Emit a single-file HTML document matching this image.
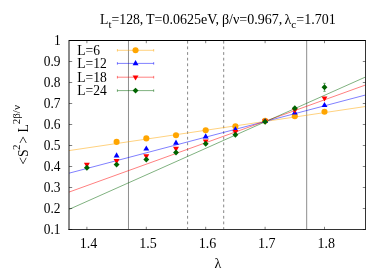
<!DOCTYPE html>
<html><head><meta charset="utf-8"><title>plot</title>
<style>
html,body{margin:0;padding:0;background:#fff;}
body{width:390px;height:273px;overflow:hidden;}
svg{display:block;will-change:transform;}
text{font-family:"Liberation Serif",serif;fill:#000;}
</style></head><body>
<svg width="390" height="273" viewBox="0 0 390 273">
<rect width="390" height="273" fill="#fff"/>

<text transform="translate(100.1,23.8) scale(0.98,1)" font-size="14">L<tspan font-size="11.200000000000001" dy="3.7">t</tspan><tspan dy="-3.7">=128,</tspan></text>
<text transform="translate(146.0,23.8) scale(1.0,1)" font-size="14">T=0.0625eV,</text>
<text transform="translate(221.95,23.8) scale(1.0,1)" font-size="14">β/ν=0.967,</text>
<text transform="translate(284.5,23.8) scale(1.0,1)" font-size="14">λ<tspan font-size="11.200000000000001" dy="3.7">c</tspan><tspan dy="-3.7">=1.701</tspan></text>
<line x1="128.48" y1="40.5" x2="128.48" y2="229.5" stroke="#000" stroke-width="0.45"/>
<line x1="306.68" y1="40.5" x2="306.68" y2="229.5" stroke="#000" stroke-width="0.45"/>
<line x1="187.6" y1="40.8" x2="187.6" y2="229.5" stroke="#000" stroke-width="0.48" stroke-dasharray="2.8,2.847"/>
<line x1="223.7" y1="40.8" x2="223.7" y2="229.5" stroke="#000" stroke-width="0.48" stroke-dasharray="2.8,2.847"/>
<line x1="69.0" y1="150.6" x2="365.5" y2="106.5" stroke="#ffa500" stroke-width="0.5"/>
<line x1="69.0" y1="173.2" x2="365.5" y2="95.0" stroke="#0000ff" stroke-width="0.5"/>
<line x1="69.0" y1="192.1" x2="365.5" y2="85.0" stroke="#ff0000" stroke-width="0.5"/>
<line x1="69.0" y1="209.4" x2="365.5" y2="77.0" stroke="#006400" stroke-width="0.5"/>
<path d="M69.0 40.5 H366.0" stroke="#000" stroke-width="1" fill="none"/>
<path d="M68.4 229.5 H366.0" stroke="#333" stroke-width="1" fill="none"/>
<path d="M365.5 40.5 V230.0" stroke="#333" stroke-width="1" fill="none"/>
<path d="M69.0 40.0 V230.0" stroke="#161616" stroke-width="1" fill="none"/>
<line x1="69.0" y1="229.50" x2="72.2" y2="229.50" stroke="#000" stroke-width="0.5"/>
<line x1="365.5" y1="229.50" x2="362.8" y2="229.50" stroke="#000" stroke-width="0.5"/>
<text transform="translate(60.6,234.25) scale(0.96,1)" font-size="14" text-anchor="end">0.1</text>
<line x1="69.0" y1="208.50" x2="72.2" y2="208.50" stroke="#000" stroke-width="0.5"/>
<line x1="365.5" y1="208.50" x2="362.8" y2="208.50" stroke="#000" stroke-width="0.5"/>
<text transform="translate(60.6,213.25) scale(0.96,1)" font-size="14" text-anchor="end">0.2</text>
<line x1="69.0" y1="187.50" x2="72.2" y2="187.50" stroke="#000" stroke-width="0.5"/>
<line x1="365.5" y1="187.50" x2="362.8" y2="187.50" stroke="#000" stroke-width="0.5"/>
<text transform="translate(60.6,192.25) scale(0.96,1)" font-size="14" text-anchor="end">0.3</text>
<line x1="69.0" y1="166.50" x2="72.2" y2="166.50" stroke="#000" stroke-width="0.5"/>
<line x1="365.5" y1="166.50" x2="362.8" y2="166.50" stroke="#000" stroke-width="0.5"/>
<text transform="translate(60.6,171.25) scale(0.96,1)" font-size="14" text-anchor="end">0.4</text>
<line x1="69.0" y1="145.50" x2="72.2" y2="145.50" stroke="#000" stroke-width="0.5"/>
<line x1="365.5" y1="145.50" x2="362.8" y2="145.50" stroke="#000" stroke-width="0.5"/>
<text transform="translate(60.6,150.25) scale(0.96,1)" font-size="14" text-anchor="end">0.5</text>
<line x1="69.0" y1="124.50" x2="72.2" y2="124.50" stroke="#000" stroke-width="0.5"/>
<line x1="365.5" y1="124.50" x2="362.8" y2="124.50" stroke="#000" stroke-width="0.5"/>
<text transform="translate(60.6,129.25) scale(0.96,1)" font-size="14" text-anchor="end">0.6</text>
<line x1="69.0" y1="103.50" x2="72.2" y2="103.50" stroke="#000" stroke-width="0.5"/>
<line x1="365.5" y1="103.50" x2="362.8" y2="103.50" stroke="#000" stroke-width="0.5"/>
<text transform="translate(60.6,108.25) scale(0.96,1)" font-size="14" text-anchor="end">0.7</text>
<line x1="69.0" y1="82.50" x2="72.2" y2="82.50" stroke="#000" stroke-width="0.5"/>
<line x1="365.5" y1="82.50" x2="362.8" y2="82.50" stroke="#000" stroke-width="0.5"/>
<text transform="translate(60.6,87.25) scale(0.96,1)" font-size="14" text-anchor="end">0.8</text>
<line x1="69.0" y1="61.50" x2="72.2" y2="61.50" stroke="#000" stroke-width="0.5"/>
<line x1="365.5" y1="61.50" x2="362.8" y2="61.50" stroke="#000" stroke-width="0.5"/>
<text transform="translate(60.6,66.25) scale(0.96,1)" font-size="14" text-anchor="end">0.9</text>
<line x1="69.0" y1="40.50" x2="72.2" y2="40.50" stroke="#000" stroke-width="0.5"/>
<line x1="365.5" y1="40.50" x2="362.8" y2="40.50" stroke="#000" stroke-width="0.5"/>
<text transform="translate(60.6,45.25) scale(0.96,1)" font-size="14" text-anchor="end">1</text>
<line x1="86.90" y1="229.5" x2="86.90" y2="226.8" stroke="#000" stroke-width="0.5"/>
<line x1="86.90" y1="40.5" x2="86.90" y2="43.2" stroke="#000" stroke-width="0.5"/>
<text x="88.60" y="247.9" font-size="14" text-anchor="middle">1.4</text>
<line x1="146.30" y1="229.5" x2="146.30" y2="226.8" stroke="#000" stroke-width="0.5"/>
<line x1="146.30" y1="40.5" x2="146.30" y2="43.2" stroke="#000" stroke-width="0.5"/>
<text x="148.00" y="247.9" font-size="14" text-anchor="middle">1.5</text>
<line x1="205.70" y1="229.5" x2="205.70" y2="226.8" stroke="#000" stroke-width="0.5"/>
<line x1="205.70" y1="40.5" x2="205.70" y2="43.2" stroke="#000" stroke-width="0.5"/>
<text x="207.40" y="247.9" font-size="14" text-anchor="middle">1.6</text>
<line x1="265.10" y1="229.5" x2="265.10" y2="226.8" stroke="#000" stroke-width="0.5"/>
<line x1="265.10" y1="40.5" x2="265.10" y2="43.2" stroke="#000" stroke-width="0.5"/>
<text x="266.80" y="247.9" font-size="14" text-anchor="middle">1.7</text>
<line x1="324.50" y1="229.5" x2="324.50" y2="226.8" stroke="#000" stroke-width="0.5"/>
<line x1="324.50" y1="40.5" x2="324.50" y2="43.2" stroke="#000" stroke-width="0.5"/>
<text x="326.20" y="247.9" font-size="14" text-anchor="middle">1.8</text>
<text x="217.8" y="267.5" font-size="14" text-anchor="middle">λ</text>
<text transform="translate(27.8,134.9) rotate(-90) scale(0.98,1)" font-size="14" text-anchor="middle">&lt;S<tspan font-size="11.200000000000001" dy="-7.5" dx="-0.8">2</tspan><tspan dy="7.5" dx="0.8">&gt; L</tspan><tspan font-size="11.200000000000001" dy="-7.5">2β/ν</tspan></text>
<circle cx="116.60" cy="141.90" r="3.05" fill="#ffa500"/>
<circle cx="146.30" cy="138.40" r="3.05" fill="#ffa500"/>
<circle cx="176.00" cy="135.20" r="3.05" fill="#ffa500"/>
<circle cx="205.70" cy="130.30" r="3.05" fill="#ffa500"/>
<circle cx="235.40" cy="126.40" r="3.05" fill="#ffa500"/>
<circle cx="265.10" cy="120.80" r="3.05" fill="#ffa500"/>
<circle cx="294.80" cy="116.30" r="3.05" fill="#ffa500"/>
<circle cx="324.50" cy="111.80" r="3.05" fill="#ffa500"/>
<path d="M116.60 152.30 L119.55 157.40 L113.65 157.40Z" fill="#0000ff"/>
<path d="M146.30 145.40 L149.25 150.50 L143.35 150.50Z" fill="#0000ff"/>
<path d="M176.00 139.60 L178.95 144.70 L173.05 144.70Z" fill="#0000ff"/>
<path d="M205.70 133.30 L208.65 138.40 L202.75 138.40Z" fill="#0000ff"/>
<path d="M235.40 126.20 L238.35 131.30 L232.45 131.30Z" fill="#0000ff"/>
<path d="M265.10 118.00 L268.05 123.10 L262.15 123.10Z" fill="#0000ff"/>
<path d="M294.80 109.50 L297.75 114.60 L291.85 114.60Z" fill="#0000ff"/>
<path d="M324.50 101.90 L327.45 107.00 L321.55 107.00Z" fill="#0000ff"/>
<path d="M86.90 167.90 L89.85 162.80 L83.95 162.80Z" fill="#ff0000"/>
<path d="M116.60 164.20 L119.55 159.10 L113.65 159.10Z" fill="#ff0000"/>
<path d="M146.30 159.40 L149.25 154.30 L143.35 154.30Z" fill="#ff0000"/>
<path d="M176.00 151.90 L178.95 146.80 L173.05 146.80Z" fill="#ff0000"/>
<path d="M205.70 144.50 L208.65 139.40 L202.75 139.40Z" fill="#ff0000"/>
<path d="M235.40 135.10 L238.35 130.00 L232.45 130.00Z" fill="#ff0000"/>
<path d="M265.10 124.60 L268.05 119.50 L262.15 119.50Z" fill="#ff0000"/>
<path d="M294.80 113.60 L297.75 108.50 L291.85 108.50Z" fill="#ff0000"/>
<path d="M324.50 101.60 L327.45 96.50 L321.55 96.50Z" fill="#ff0000"/>
<path d="M86.90 164.75 L89.85 167.70 L86.90 170.65 L83.95 167.70Z" fill="#006400"/>
<path d="M116.60 161.65 L119.55 164.60 L116.60 167.55 L113.65 164.60Z" fill="#006400"/>
<path d="M146.30 156.55 L149.25 159.50 L146.30 162.45 L143.35 159.50Z" fill="#006400"/>
<path d="M176.00 149.55 L178.95 152.50 L176.00 155.45 L173.05 152.50Z" fill="#006400"/>
<path d="M205.70 140.85 L208.65 143.80 L205.70 146.75 L202.75 143.80Z" fill="#006400"/>
<path d="M235.40 131.85 L238.35 134.80 L235.40 137.75 L232.45 134.80Z" fill="#006400"/>
<path d="M265.10 118.75 L268.05 121.70 L265.10 124.65 L262.15 121.70Z" fill="#006400"/>
<path d="M294.80 105.25 L297.75 108.20 L294.80 111.15 L291.85 108.20Z" fill="#006400"/>
<path d="M324.50 83.30 V91.30 M323.20 83.30 h2.6 M323.20 91.30 h2.6" stroke="#006400" stroke-width="0.5" fill="none"/>
<path d="M324.50 84.35 L327.45 87.30 L324.50 90.25 L321.55 87.30Z" fill="#006400"/>
<text transform="translate(77.3,55.3) scale(0.97,1)" font-size="14">L=6</text>
<path d="M117.4 50.3 H153.7 M117.4 49.0 v2.6 M153.7 49.0 v2.6" stroke="#ffa500" stroke-width="0.5" fill="none"/>
<circle cx="135.55" cy="50.30" r="3.05" fill="#ffa500"/>
<text transform="translate(77.3,68.1) scale(0.97,1)" font-size="14">L=12</text>
<path d="M117.4 63.4 H153.7 M117.4 62.1 v2.6 M153.7 62.1 v2.6" stroke="#0000ff" stroke-width="0.5" fill="none"/>
<path d="M135.55 60.10 L138.50 65.20 L132.60 65.20Z" fill="#0000ff"/>
<text transform="translate(77.3,82.0) scale(0.97,1)" font-size="14">L=18</text>
<path d="M117.4 77.2 H153.7 M117.4 75.9 v2.6 M153.7 75.9 v2.6" stroke="#ff0000" stroke-width="0.5" fill="none"/>
<path d="M135.55 80.50 L138.50 75.40 L132.60 75.40Z" fill="#ff0000"/>
<text transform="translate(77.3,95.2) scale(0.97,1)" font-size="14">L=24</text>
<path d="M117.4 90.6 H153.7 M117.4 89.3 v2.6 M153.7 89.3 v2.6" stroke="#006400" stroke-width="0.5" fill="none"/>
<path d="M135.55 87.65 L138.50 90.60 L135.55 93.55 L132.60 90.60Z" fill="#006400"/>
</svg></body></html>
